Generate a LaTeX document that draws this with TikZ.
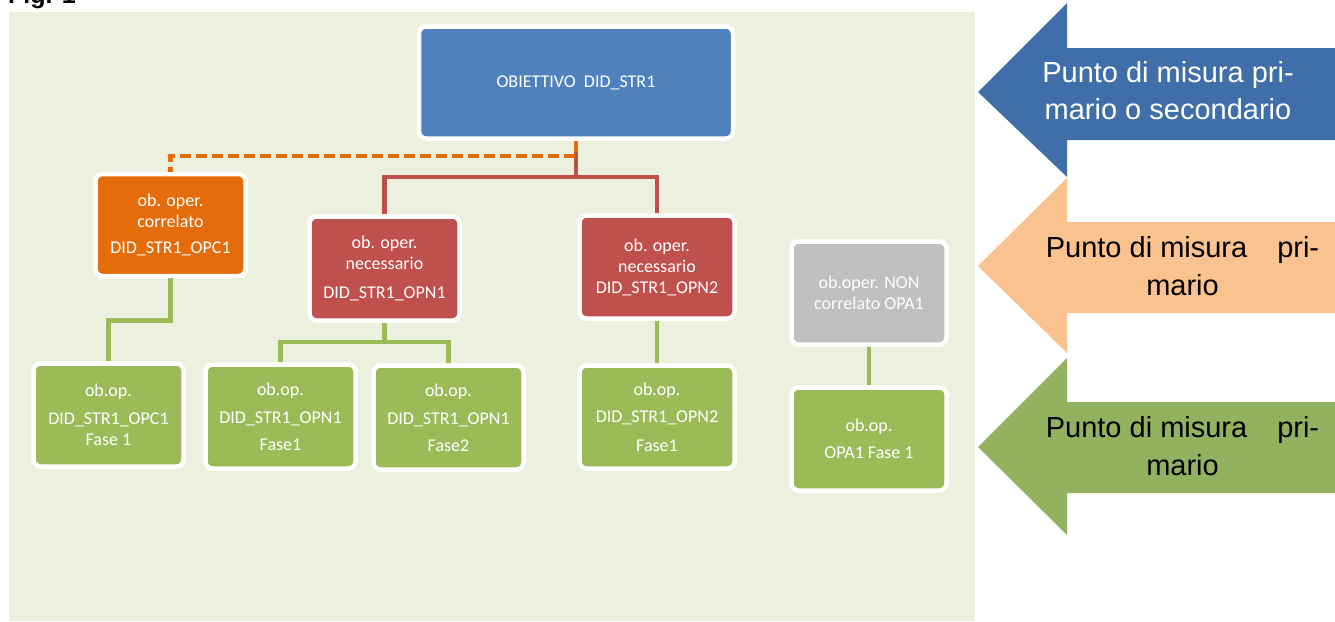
\documentclass[tikz,border=0pt]{standalone}
\usepackage{fontspec}
\setmainfont{Carlito}
\newfontfamily\arialf{Liberation Sans}
\definecolor{bgc}{HTML}{EBF1DE}
\definecolor{bluec}{HTML}{4F81BD}
\definecolor{orc}{HTML}{E46C0A}
\definecolor{redc}{HTML}{C0504D}
\definecolor{grc}{HTML}{9BBB59}
\definecolor{grayc}{HTML}{BFBFBF}
\definecolor{abluec}{HTML}{3F6EA9}
\definecolor{apeachc}{HTML}{FAC28F}
\definecolor{agreenc}{HTML}{93B25F}
\newcommand{\boxfont}{\fontsize{18}{21}\selectfont}
\tikzset{
  box/.style={draw=white, line width=4.5pt, rounded corners=7pt, text=white,
    align=center, font=\boxfont, inner sep=0pt, minimum width=150pt, minimum height=103pt},
  wbox/.style={box, minimum width=155pt},
  redline/.style={draw=redc, line width=4.5pt},
  greenline/.style={draw=grc, line width=4.5pt},
  orangedash/.style={draw=orc, line width=4.8pt, dash pattern=on 11pt off 5pt},
  arrtext/.style={align=center, inner sep=0pt, font=\arialf\fontsize{29}{37.5}\selectfont}
}
\begin{document}
\begin{tikzpicture}[x=1pt,y=-1pt]
\useasboundingbox (0,0) rectangle (1335,621);
\fill[bgc] (9,12) rectangle (975,621);
\node[anchor=base west, inner sep=0pt, font=\arialf\bfseries\fontsize{25}{30}\selectfont] (fig) at (8,4) {Fig. 1};

% boxes
\node[box, fill=bluec, minimum width=314pt, minimum height=112pt] (obj) at (576,82.5) {OBIETTIVO\ \ DID\_STR1};
\node[box, fill=orc, minimum height=102pt] (opc) at (170.5,225) {ob. oper.\\correlato\\[5.5pt]DID\_STR1\_OPC1};
\node[box, fill=redc, minimum height=104pt] (opn1) at (384.5,268.5) {ob. oper.\\necessario\\[7.5pt]DID\_STR1\_OPN1};
\node[wbox, fill=redc] (opn2) at (657,267) {ob. oper.\\necessario\\DID\_STR1\_OPN2};
\node[wbox, fill=grayc] (opa) at (869,293) {ob.oper. NON\\correlato OPA1};
\node[box, fill=grc] (f1) at (108.5,415) {ob.op.\\[6.5pt]DID\_STR1\_OPC1\\Fase 1};
\node[box, fill=grc, minimum height=104pt] (f2) at (280.5,416.5) {ob.op.\\[7.5pt]DID\_STR1\_OPN1\\[5.5pt]Fase1};
\node[box, fill=grc, minimum height=104pt] (f3) at (448.5,417.5) {ob.op.\\[7.5pt]DID\_STR1\_OPN1\\[5.5pt]Fase2};
\node[wbox, fill=grc] (f4) at (657,417) {ob.op.\\[6.5pt]DID\_STR1\_OPN2\\[7.5pt]Fase1};
\node[wbox, fill=grc] (f5) at (869,439) {ob.op.\\[6.5pt]OPA1 Fase 1};

% connectors
\coordinate (rj) at (576,177);
\coordinate (oj) at (576,156);
\draw[redline] (obj.south) -- (rj);
\draw[redline] (rj) -| (opn1.north);
\draw[redline] (rj) -| (opn2.north);
\draw[orangedash] (obj.south) -- (oj) -| (opc.north);
\draw[greenline] (opc.south) -- ++(0,42) -| (f1.north);
\draw[greenline] (opn1.south) -- ++(0,19) coordinate (g2);
\draw[greenline] (g2) -| (f2.north);
\draw[greenline] (g2) -| (f3.north);
\draw[greenline] (opn2.south) -- (f4.north);
\draw[greenline] (opa.south) -- (f5.north);

% arrows
\fill[abluec] (978,92) -- (1067,3) -- (1067,48) -- (1335,48) -- (1335,140) -- (1067,140) -- (1067,177) -- cycle;
\fill[apeachc] (978,266) -- (1067,178) -- (1067,222) -- (1335,222) -- (1335,313) -- (1067,313) -- (1067,353) -- cycle;
\fill[agreenc] (978,447) -- (1067,358) -- (1067,402) -- (1335,402) -- (1335,493) -- (1067,493) -- (1067,535) -- cycle;
\node[arrtext, text=white] (ta) at (1168,90.5) {Punto di misura pri-\\mario o secondario};
\node[arrtext, text=black] (tb) at (1182.5,266) {Punto di misura\hspace{30pt}pri-\\mario};
\node[arrtext, text=black] (tc) at (1182.5,446) {Punto di misura\hspace{30pt}pri-\\mario};
\end{tikzpicture}
\end{document}
